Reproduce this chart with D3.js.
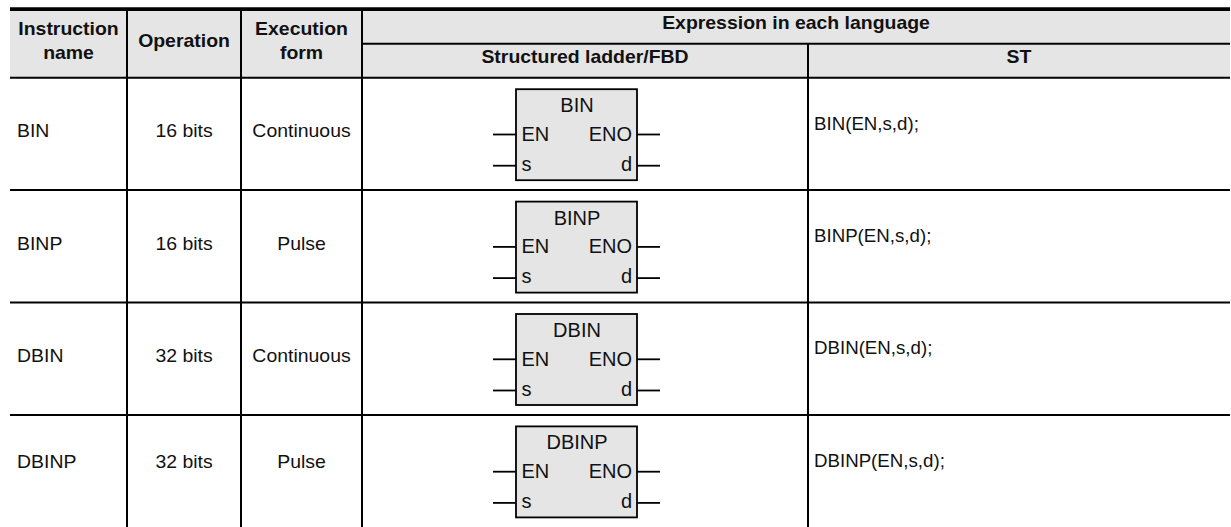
<!DOCTYPE html>
<html>
<head>
<meta charset="utf-8">
<script src="https://cdn.jsdelivr.net/npm/d3@7"></script>
<style>
  html, body { margin: 0; padding: 0; background: #ffffff; }
  svg { display: block; }
  text { font-family: "Liberation Sans", Arial, Helvetica, sans-serif; fill: #111; }
</style>
</head>
<body>
<svg id="chart" width="1231" height="527"></svg>
<script>
// ---------------- data ----------------
const instructionNames = ["BIN", "BINP", "DBIN", "DBINP"];
const operations = ["16 bits", "16 bits", "32 bits", "32 bits"];
const executionForms = ["Continuous", "Pulse", "Continuous", "Pulse"];
const stExpressions = ["BIN(EN,s,d);", "BINP(EN,s,d);", "DBIN(EN,s,d);", "DBINP(EN,s,d);"];
const headerTop = ["Instruction\nname", "Operation", "Execution\nform"];
const headerGroup = "Expression in each language";
const headerSub = ["Structured ladder/FBD", "ST"];
const pinsLeft = ["EN", "s"];
const pinsRight = ["ENO", "d"];

// ---------------- layout ----------------
const W = 1231, H = 527;
const colEdges = [10, 127, 241, 362, 808, 1230];
const topLineY = 9.2, headTopY = 11, subLineY = 43.7, headBottomY = 77.7, rowStep = 112.4;

const svg = d3.select("#chart");

const rowScale = d3.scaleBand()
  .domain(instructionNames)
  .range([headBottomY, headBottomY + rowStep * instructionNames.length])
  .paddingInner(0).paddingOuter(0);

function txt(g, x, y, s, o) {
  const t = g.append("text")
    .attr("transform", `translate(${x},${y}) scale(${o.sx || 1},1)`)
    .attr("text-anchor", o.anchor || "start")
    .style("font-size", o.size + "px")
    .style("font-weight", o.weight || "normal")
    .text(s);
  return t;
}

// header background
svg.append("rect")
  .attr("x", colEdges[0]).attr("y", headTopY)
  .attr("width", colEdges[5] - colEdges[0]).attr("height", headBottomY - headTopY)
  .attr("fill", "#e5e5e5");

// header text
const hdr = svg.append("g");
const hSize = 18, hSx = 1.08;
headerTop.forEach((label, i) => {
  const cx = (colEdges[i] + colEdges[i + 1]) / 2;
  const lines = label.split("\n");
  if (lines.length === 2) {
    txt(hdr, cx, 35, lines[0], {size: hSize, weight: "bold", anchor: "middle", sx: hSx});
    txt(hdr, cx, 59.3, lines[1], {size: hSize, weight: "bold", anchor: "middle", sx: hSx});
  } else {
    txt(hdr, cx, 46.8, lines[0], {size: hSize, weight: "bold", anchor: "middle", sx: hSx});
  }
});
txt(hdr, (colEdges[3] + colEdges[5]) / 2, 29.3, headerGroup, {size: hSize, weight: "bold", anchor: "middle", sx: hSx});
headerSub.forEach((label, i) => {
  const cx = (colEdges[3 + i] + colEdges[4 + i]) / 2;
  txt(hdr, cx, 63.3, label, {size: hSize, weight: "bold", anchor: "middle", sx: hSx});
});

// body rows
const body = svg.append("g");
const bSize = 18, bSx = 1.08;
instructionNames.forEach((name, i) => {
  const top = rowScale(name);
  const colOff = i === instructionNames.length - 1 ? 52.7 : 59.6;
  txt(body, colEdges[0] + 7, top + colOff, name, {size: bSize, sx: bSx});
  txt(body, (colEdges[1] + colEdges[2]) / 2, top + colOff, operations[i], {size: bSize, anchor: "middle", sx: bSx});
  txt(body, (colEdges[2] + colEdges[3]) / 2, top + colOff, executionForms[i], {size: bSize, anchor: "middle", sx: bSx});
  txt(body, colEdges[4] + 6, top + 51.8, stExpressions[i], {size: 18.7});

  // function block
  const bx0 = 516, bx1 = 637, by0 = top + 11.5, by1 = top + 102.5;
  const fb = body.append("g");
  const pinY = [top + 56.8, top + 88];
  pinY.forEach(py => {
    fb.append("line").attr("x1", 493).attr("x2", bx0).attr("y1", py).attr("y2", py)
      .attr("stroke", "#000").attr("stroke-width", 1.8);
    fb.append("line").attr("x1", bx1).attr("x2", 660).attr("y1", py).attr("y2", py)
      .attr("stroke", "#000").attr("stroke-width", 1.8);
  });
  fb.append("rect").attr("x", bx0).attr("y", by0)
    .attr("width", bx1 - bx0).attr("height", by1 - by0)
    .attr("fill", "#e5e5e5").attr("stroke", "#000").attr("stroke-width", 1.8);
  txt(fb, (bx0 + bx1) / 2 + 0.5, top + 34.5, name, {size: 20, anchor: "middle"});
  const pinTextY = [top + 63, top + 93];
  pinsLeft.forEach((p, k) => txt(fb, bx0 + 5.5, pinTextY[k], p, {size: 20}));
  pinsRight.forEach((p, k) => txt(fb, bx1 - 5, pinTextY[k], p, {size: 20, anchor: "end"}));
});

// grid lines
const grid = svg.append("g").attr("stroke", "#000");
grid.append("line").attr("x1", colEdges[0]).attr("x2", colEdges[5])
  .attr("y1", topLineY).attr("y2", topLineY).attr("stroke-width", 3.7);
grid.append("line").attr("x1", colEdges[3]).attr("x2", colEdges[5])
  .attr("y1", subLineY).attr("y2", subLineY).attr("stroke-width", 2);
grid.append("line").attr("x1", colEdges[0]).attr("x2", colEdges[5])
  .attr("y1", headBottomY).attr("y2", headBottomY).attr("stroke-width", 2);
instructionNames.slice(1).forEach(name => {
  const y = rowScale(name);
  grid.append("line").attr("x1", colEdges[0]).attr("x2", colEdges[5])
    .attr("y1", y).attr("y2", y).attr("stroke-width", 2);
});
[1, 2, 3].forEach(c => {
  grid.append("line").attr("x1", colEdges[c]).attr("x2", colEdges[c])
    .attr("y1", headTopY).attr("y2", H).attr("stroke-width", 2);
});
grid.append("line").attr("x1", colEdges[4]).attr("x2", colEdges[4])
  .attr("y1", subLineY).attr("y2", H).attr("stroke-width", 2);
</script>
</body>
</html>
